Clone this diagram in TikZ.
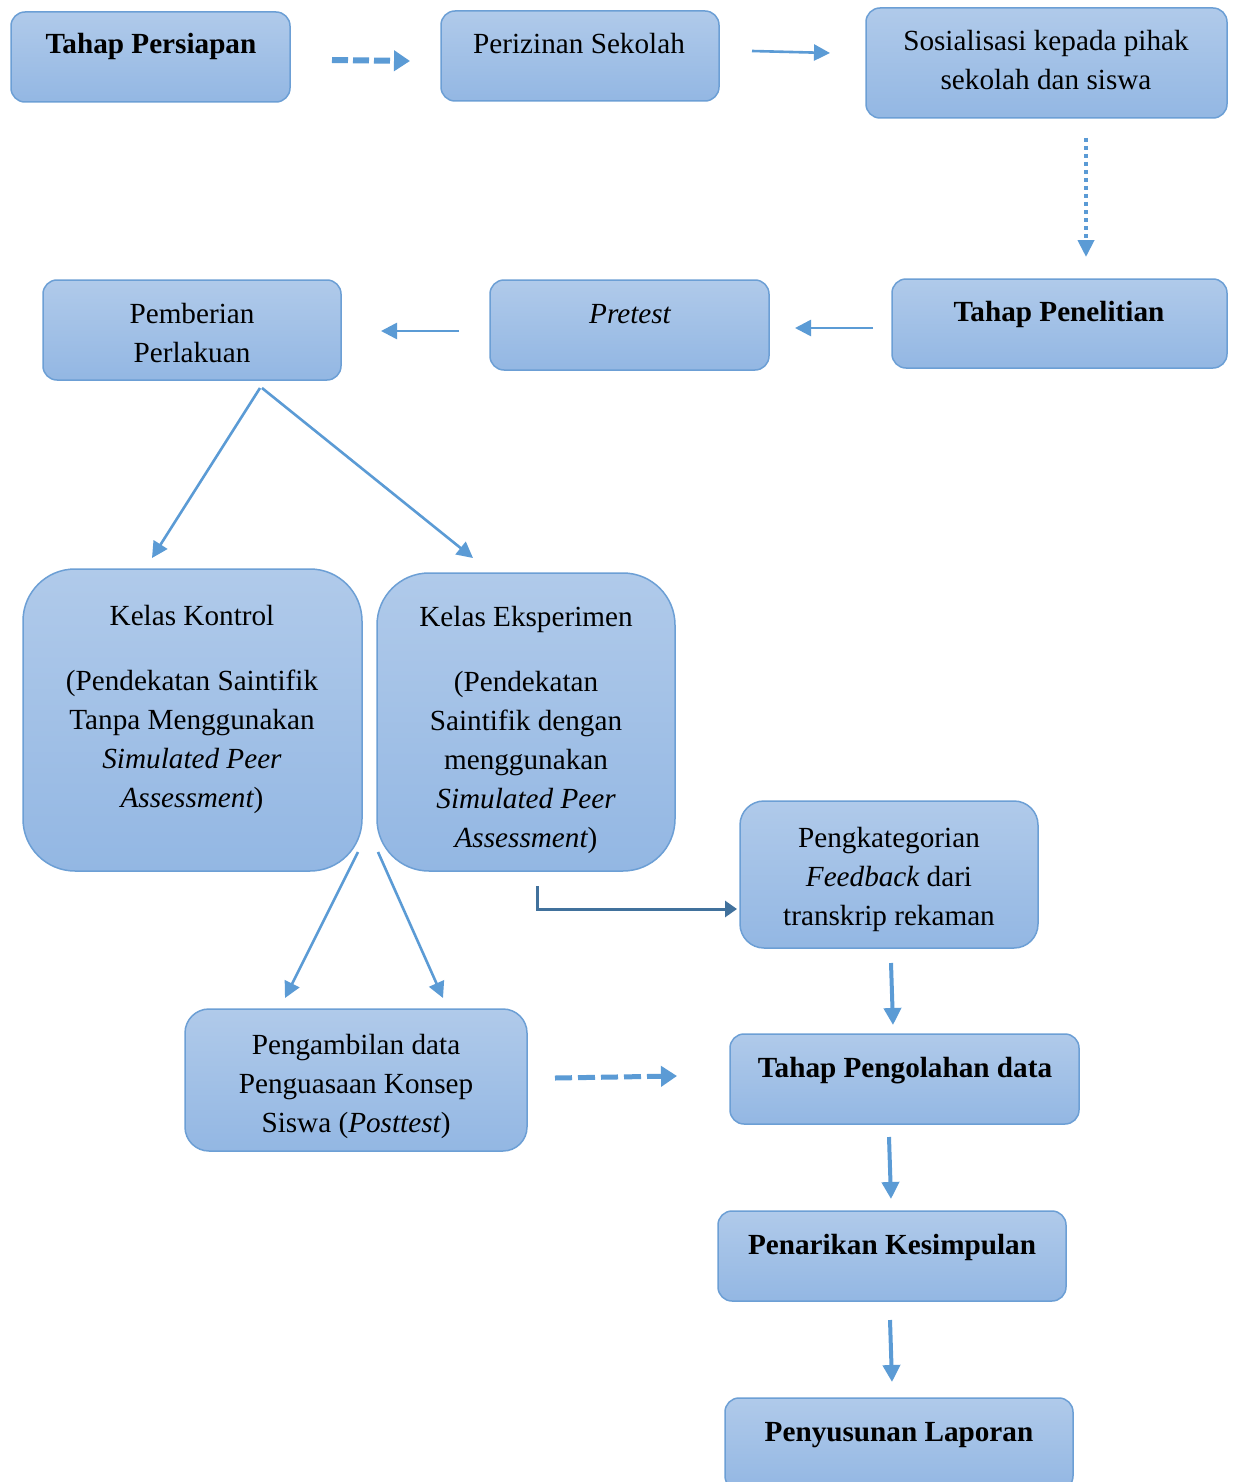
\documentclass[tikz,border=0pt]{standalone}
\usepackage{fontspec}
\setmainfont{Liberation Serif}
\usetikzlibrary{arrows.meta}
\definecolor{bfillA}{HTML}{B0CAEA}
\definecolor{bfillB}{HTML}{93B7E3}
\definecolor{bdraw}{HTML}{6C9FD5}
\definecolor{arr}{HTML}{5B9BD5}
\definecolor{arrdark}{HTML}{41719C}
\begin{document}
\begin{tikzpicture}[x=1pt,y=-1pt,
  box/.style={draw=bdraw, line width=1.5pt, top color=bfillA, bottom color=bfillB, rounded corners=14pt, inner sep=0pt},
  txt/.style={font=\fontsize{29.2}{39}\selectfont, align=center, inner sep=0pt, anchor=base},
  thin/.style={draw=arr, line width=2.6pt, -{Triangle[length=16pt,width=16pt]}},
  thick/.style={draw=arr, line width=4pt, -{Triangle[length=17pt,width=17pt]}},
  dashthick/.style={draw=arr, line width=6pt, dash pattern=on 16pt off 5pt, -{Triangle[length=16pt,width=20pt]}},
  dotline/.style={draw=arr, line width=4pt, dash pattern=on 4pt off 4pt, -{Triangle[length=17pt,width=16pt]}},
  darkarr/.style={draw=arrdark, line width=3pt, -{Triangle[length=12pt,width=16pt]}}
]
\useasboundingbox (0,0) rectangle (1234,1482);
\clip (0,0) rectangle (1234,1482);
\fill[white] (0,0) rectangle (1234,1482);

% boxes
\node[box, minimum width=279, minimum height=90] (b1) at (150.5,57) {};
\node[box, minimum width=278, minimum height=90] (b2) at (580,56) {};
\node[box, minimum width=361, minimum height=110] (b3) at (1046.5,63) {};
\node[box, minimum width=335, minimum height=89] (b4) at (1059.5,323.5) {};
\node[box, minimum width=279, minimum height=90] (b5) at (629.5,325) {};
\node[box, minimum width=298, minimum height=100] (b6) at (192,330) {};
\node[box, minimum width=339, minimum height=302, rounded corners=52pt] (b7) at (192.5,720) {};
\node[box, minimum width=298, minimum height=298, rounded corners=52pt] (b8) at (526,722) {};
\node[box, minimum width=298, minimum height=147, rounded corners=24pt] (b9) at (889,874.5) {};
\node[box, minimum width=342, minimum height=142, rounded corners=24pt] (b10) at (356,1080) {};
\node[box, minimum width=349, minimum height=90] (b11) at (904.5,1079) {};
\node[box, minimum width=348, minimum height=90] (b12) at (892,1256) {};
\node[box, minimum width=348, minimum height=92] (b13) at (899,1444) {};

% texts (anchor = baseline of last line)
\node[txt] (t1) at (151,54) {\bfseries Tahap Persiapan};
\node[txt] (t2) at (579,54) {Perizinan Sekolah};
\node[txt] (t3) at (1046,90) {Sosialisasi kepada pihak\\sekolah dan siswa};
\node[txt] (t4) at (1059,321) {\bfseries Tahap Penelitian};
\node[txt] (t5) at (630,323) {\itshape Pretest};
\node[txt] (t6) at (192,362) {Pemberian\\Perlakuan};
\node[txt] (t7) at (192,807) {Kelas Kontrol\\[26pt](Pendekatan Saintifik\\Tanpa Menggunakan\\\itshape Simulated Peer\\\itshape Assessment\upshape)};
\node[txt] (t8) at (526,847) {Kelas Eksperimen\\[26pt](Pendekatan\\Saintifik dengan\\menggunakan\\\itshape Simulated Peer\\\itshape Assessment\upshape)};
\node[txt] (t9) at (889,925) {Pengkategorian\\\itshape Feedback \upshape dari\\transkrip rekaman};
\node[txt] (t10) at (356,1132) {Pengambilan data\\Penguasaan Konsep\\Siswa (\itshape Posttest\upshape)};
\node[txt] (t11) at (905,1077) {\bfseries Tahap Pengolahan data};
\node[txt] (t12) at (892,1254) {\bfseries Penarikan Kesimpulan};
\node[txt] (t13) at (899,1441) {\bfseries Penyusunan Laporan};

% connector end points
\coordinate (a1s) at (332,60);   \coordinate (a1e) at (410,61);
\coordinate (a2s) at (752,51);   \coordinate (a2e) at (830,53);
\coordinate (a3s) at (1086,138); \coordinate (a3e) at (1086,257);
\coordinate (a4s) at (873,328);  \coordinate (a4e) at (795,328);
\coordinate (a5s) at (459,331);  \coordinate (a5e) at (381,331);
\coordinate (a6s) at (260,388);  \coordinate (a6e) at (152,558);
\coordinate (a7s) at (262,388);  \coordinate (a7e) at (473,558);
\coordinate (a8s) at (358,852);  \coordinate (a8e) at (285,998);
\coordinate (a9s) at (378,852);  \coordinate (a9e) at (443,998);
\coordinate (a10s) at (537,886); \coordinate (a10m) at (537,909); \coordinate (a10e) at (737,909);
\coordinate (a11s) at (555,1078); \coordinate (a11e) at (677,1076);
\coordinate (a12s) at (891,963);  \coordinate (a12e) at (893,1025);
\coordinate (a13s) at (889,1137); \coordinate (a13e) at (891,1199);
\coordinate (a14s) at (890,1320); \coordinate (a14e) at (892,1382);

% connectors
\draw[dashthick] (a1s) -- (a1e);
\draw[thin] (a2s) -- (a2e);
\draw[dotline] (a3s) -- (a3e);
\draw[thin] (a4s) -- (a4e);
\draw[thin] (a5s) -- (a5e);
\draw[thin] (a6s) -- (a6e);
\draw[thin] (a7s) -- (a7e);
\draw[thin] (a8s) -- (a8e);
\draw[thin] (a9s) -- (a9e);
\draw[darkarr] (a10s) -- (a10m) -- (a10e);
\draw[dashthick, line width=5pt, dash pattern=on 17pt off 6pt] (a11s) -- (a11e);
\draw[thick] (a12s) -- (a12e);
\draw[thick] (a13s) -- (a13e);
\draw[thick] (a14s) -- (a14e);
\end{tikzpicture}
\end{document}
